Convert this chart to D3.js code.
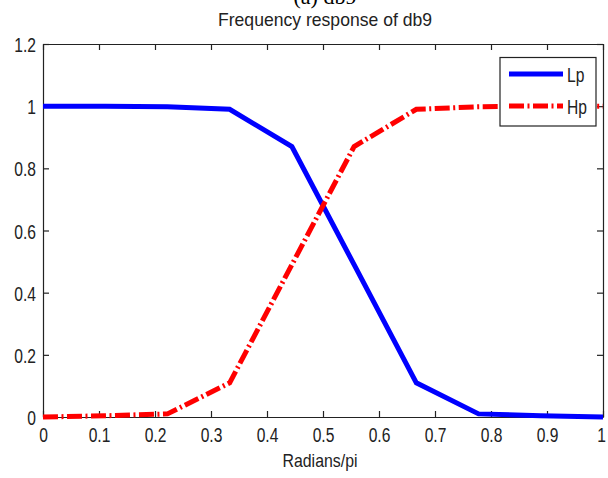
<!DOCTYPE html>
<html lang="en">
<head>
    <meta charset="UTF-8">
    <title>Frequency response of db9</title>
    <script src="https://d3js.org/d3.v7.min.js"></script>
    <style>
        body { margin: 0; background: #fff; }
        svg { display: block; }
        .lbl { font-family: "Liberation Sans", Arial, sans-serif; fill: #222; }
    </style>
</head>
<body>
    <svg width="608" height="478"></svg>
    <script>
        // data
        const freq = [0, 1/9, 2/9, 3/9, 4/9, 5/9, 6/9, 7/9, 8/9, 1];
        const lowpass = [1, 1, 0.998, 0.99, 0.87, 0.49, 0.11, 0.01, 0.004, 0];
        const highpass = [0, 0.004, 0.01, 0.11, 0.49, 0.87, 0.99, 0.998, 1, 1];
        const xTicks = [0, 0.1, 0.2, 0.3, 0.4, 0.5, 0.6, 0.7, 0.8, 0.9, 1];
        const yTicks = [0, 0.2, 0.4, 0.6, 0.8, 1, 1.2];
        const seriesNames = ["Lp", "Hp"];

        const svg = d3.select("svg");
        const plotL = 43, plotR = 603, plotT = 44, plotB = 417;
        const squeeze = 0.78; // matlab-ish narrow glyphs

        const x = d3.scaleLinear().domain([0, 1]).range([plotL, plotR]);
        const y = d3.scaleLinear().domain([0, 1.2]).range([plotB, plotT]);

        // squash text horizontally, keeping its anchor
        function narrow(sel, k) {
            sel.each(function() {
                const w = this.getComputedTextLength();
                d3.select(this).attr("textLength", w * k).attr("lengthAdjust", "spacingAndGlyphs");
            });
        }

        // cut-off caption above the title
        svg.append("text")
            .attr("x", 325).attr("y", 4)
            .attr("text-anchor", "middle")
            .style("font-family", "Liberation Serif, serif")
            .style("font-size", "22px")
            .text("(a) db9");

        svg.append("text").attr("class", "lbl")
            .attr("x", 325).attr("y", 26)
            .attr("text-anchor", "middle")
            .style("font-size", "19px")
            .attr("textLength", 214).attr("lengthAdjust", "spacingAndGlyphs")
            .text("Frequency response of db9");

        // axes with inward ticks, MATLAB box style
        const fmt = d3.format("");
        const gx = svg.append("g").attr("transform", `translate(0,${plotB})`)
            .call(d3.axisBottom(x).tickValues(xTicks).tickFormat(fmt).tickSizeInner(-6).tickSizeOuter(0));
        const gxTop = svg.append("g").attr("transform", `translate(0,${plotT})`)
            .call(d3.axisTop(x).tickValues(xTicks).tickFormat("").tickSizeInner(-6).tickSizeOuter(0));
        const gy = svg.append("g").attr("transform", `translate(${plotL},0)`)
            .call(d3.axisLeft(y).tickValues(yTicks).tickFormat(fmt).tickSizeInner(-6).tickSizeOuter(0));
        const gyRight = svg.append("g").attr("transform", `translate(${plotR},0)`)
            .call(d3.axisRight(y).tickValues(yTicks).tickFormat("").tickSizeInner(-6).tickSizeOuter(0));

        [gx, gxTop, gy, gyRight].forEach(g => {
            g.select(".domain").attr("stroke", "#222").attr("stroke-width", 1.2);
            g.selectAll(".tick line").attr("stroke", "#222").attr("stroke-width", 1.2);
            g.selectAll("text").attr("class", "lbl").style("font-size", "20px").attr("fill", "#222");
        });
        gx.selectAll(".tick text").attr("y", 25).attr("dy", null)
            .attr("x", d => d === 1 ? -2 : 0);
        gy.selectAll(".tick text").attr("x", -7).attr("y", 7.5).attr("dy", null);
        narrow(gx.selectAll(".tick text"), squeeze);
        narrow(gy.selectAll(".tick text"), squeeze);

        svg.append("text").attr("class", "lbl")
            .attr("x", 320).attr("y", 467)
            .attr("text-anchor", "middle")
            .style("font-size", "19px")
            .attr("textLength", 75).attr("lengthAdjust", "spacingAndGlyphs")
            .text("Radians/pi");

        const line = d3.line().x(d => x(d[0])).y(d => y(d[1]));

        svg.append("path")
            .datum(freq.map((f, i) => [f, lowpass[i]]))
            .attr("d", line)
            .attr("fill", "none")
            .attr("stroke", "#0000ff")
            .attr("stroke-width", 5);

        svg.append("path")
            .datum(freq.map((f, i) => [f, highpass[i]]))
            .attr("d", line)
            .attr("fill", "none")
            .attr("stroke", "#ff0000")
            .attr("stroke-width", 5)
            .attr("stroke-dasharray", "15,3.5,2,3.5");

        // legend
        const lg = svg.append("g");
        lg.append("rect")
            .attr("x", 500).attr("y", 57.5).attr("width", 96).attr("height", 68.5)
            .attr("fill", "#fff").attr("stroke", "#222").attr("stroke-width", 1.2);
        const legendColors = ["#0000ff", "#ff0000"];
        const legendDash = [null, "15,3.5,2,3.5"];
        seriesNames.forEach((name, i) => {
            const ly = 74 + i * 32;
            lg.append("line")
                .attr("x1", 509).attr("x2", 563).attr("y1", ly).attr("y2", ly)
                .attr("stroke", legendColors[i]).attr("stroke-width", 5)
                .attr("stroke-dasharray", legendDash[i]);
            lg.append("text").attr("class", "lbl")
                .attr("x", 567).attr("y", ly + 8)
                .style("font-size", "20px")
                .text(name)
                .call(narrow, squeeze);
        });
    </script>
</body>
</html>
